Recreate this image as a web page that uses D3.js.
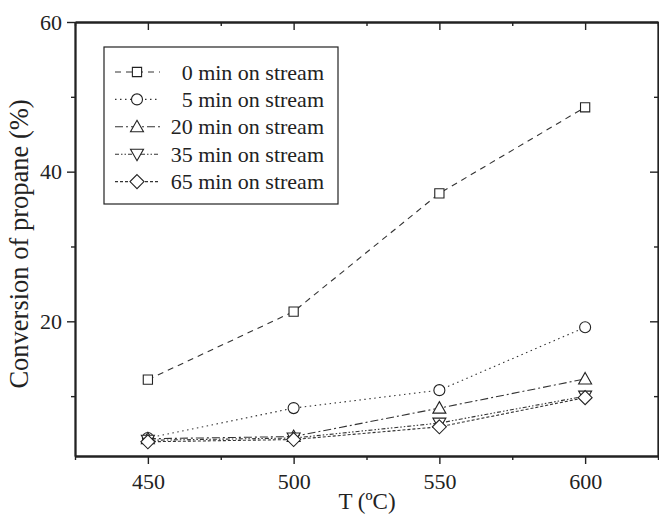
<!DOCTYPE html>
<html>
<head>
<meta charset="utf-8">
<script src="https://cdn.jsdelivr.net/npm/d3@7"></script>
<style>
  html, body { margin: 0; padding: 0; background: #fff; }
  svg { display: block; }
  text { font-family: "Liberation Serif", "Times New Roman", serif; fill: #222; }
</style>
</head>
<body>
<svg id="chart" width="659" height="515"></svg>
<script>
// ---- data ----
const temperatures = [450, 500, 550, 600];
const seriesNames = ["0 min on stream", "5 min on stream", "20 min on stream", "35 min on stream", "65 min on stream"];
const conv0min  = [12.2, 21.3, 37.1, 48.6];
const conv5min  = [4.4, 8.4, 10.8, 19.2];
const conv20min = [4.3, 4.6, 8.4, 12.3];
const conv35min = [4.1, 4.4, 6.4, 10.0];
const conv65min = [3.9, 4.2, 5.9, 9.8];
const xMajorTicks = [450, 500, 550, 600];
const xMinorTicks = [425, 475, 525, 575, 625];
const yMajorTicks = [20, 40, 60];
const yMinorTicks = [10, 30, 50];

const seriesValues = [conv0min, conv5min, conv20min, conv35min, conv65min];
const markerTypes = ["square", "circle", "triangle", "triangleDown", "diamond"];
const dashes = ["6,5", "1.5,3.5", "8,3,2,3", "4,2,1.5,2,1.5,2", "3,2"];

const svg = d3.select("#chart");
const L = 75, R = 658, T = 22, B = 456;
const x = d3.scaleLinear().domain([425, 625]).range([L, R]);
const y = d3.scaleLinear().domain([2, 60]).range([B, T]);

const tickFont = 22;
const legendFont = 22;

// axes
const axisColor = "#222";
function styleAxis(g) {
  g.selectAll("path.domain").attr("stroke", axisColor).attr("stroke-width", 1.8);
  g.selectAll(".tick line").attr("stroke", axisColor).attr("stroke-width", 1.4);
  g.selectAll(".tick text").style("font-family", '"Liberation Serif", serif').style("font-size", tickFont + "px").attr("fill", "#222");
}

// bottom
const gB = svg.append("g").attr("transform", `translate(0,${B})`);
gB.call(d3.axisBottom(x).tickValues(xMajorTicks).tickSize(8).tickSizeOuter(0).tickPadding(9).tickFormat(d3.format("d")));
styleAxis(gB);
const gBm = svg.append("g").attr("transform", `translate(0,${B})`);
gBm.call(d3.axisBottom(x).tickValues(xMinorTicks).tickSize(4).tickSizeOuter(0).tickFormat(""));
styleAxis(gBm);

// top
const gT = svg.append("g").attr("transform", `translate(0,${T})`);
gT.call(d3.axisTop(x).tickValues(xMajorTicks).tickSize(-8).tickSizeOuter(0).tickFormat(""));
styleAxis(gT);
const gTm = svg.append("g").attr("transform", `translate(0,${T})`);
gTm.call(d3.axisTop(x).tickValues(xMinorTicks).tickSize(-4).tickSizeOuter(0).tickFormat(""));
styleAxis(gTm);

// left
const gL = svg.append("g").attr("transform", `translate(${L},0)`);
gL.call(d3.axisLeft(y).tickValues(yMajorTicks).tickSize(8).tickSizeOuter(0).tickPadding(5).tickFormat(d3.format("d")));
styleAxis(gL);
const gLm = svg.append("g").attr("transform", `translate(${L},0)`);
gLm.call(d3.axisLeft(y).tickValues(yMinorTicks).tickSize(4).tickSizeOuter(0).tickFormat(""));
styleAxis(gLm);

// right
const gR = svg.append("g").attr("transform", `translate(${R},0)`);
gR.call(d3.axisRight(y).tickValues(yMajorTicks).tickSize(-8).tickSizeOuter(0).tickFormat(""));
styleAxis(gR);
const gRm = svg.append("g").attr("transform", `translate(${R},0)`);
gRm.call(d3.axisRight(y).tickValues(yMinorTicks).tickSize(-4).tickSizeOuter(0).tickFormat(""));
styleAxis(gRm);

// axis titles
svg.append("text")
  .attr("x", 367).attr("y", 509)
  .attr("text-anchor", "middle")
  .style("font-size", "23px")
  .text("T (ºC)");
svg.append("text")
  .attr("transform", `translate(28,244) rotate(-90)`)
  .attr("text-anchor", "middle")
  .style("font-size", "26.5px")
  .text("Conversion of propane (%)");

// marker drawing
function markerPath(type) {
  switch (type) {
    case "square": return d3.symbol(d3.symbolSquare, 85)();
    case "circle": return d3.symbol(d3.symbolCircle, 95)();
    case "triangle": return "M0,-6.5L6.5,5L-6.5,5Z";
    case "triangleDown": return "M0,6.5L6.5,-5L-6.5,-5Z";
    case "diamond": return "M0,-7L7,0L0,7L-7,0Z";
  }
}

const line = d3.line().x(d => x(d[0])).y(d => y(d[1]));

seriesValues.forEach((vals, i) => {
  const pts = temperatures.map((t, j) => [t, vals[j]]);
  svg.append("path")
    .datum(pts)
    .attr("d", line)
    .attr("fill", "none")
    .attr("stroke", "#333")
    .attr("stroke-width", 1.1)
    .attr("stroke-dasharray", dashes[i]);
});
seriesValues.forEach((vals, i) => {
  const pts = temperatures.map((t, j) => [t, vals[j]]);
  svg.append("g").selectAll("path")
    .data(pts)
    .join("path")
    .attr("transform", d => `translate(${x(d[0])},${y(d[1])})`)
    .attr("d", markerPath(markerTypes[i]))
    .attr("fill", "#fff")
    .attr("stroke", "#222")
    .attr("stroke-width", 1.1);
});

// legend
const lg = svg.append("g");
lg.append("rect")
  .attr("x", 104).attr("y", 47).attr("width", 234).attr("height", 157)
  .attr("fill", "#fff").attr("stroke", "#222").attr("stroke-width", 1.2);
const rowY0 = 72, rowStep = 27.4;
seriesNames.forEach((name, i) => {
  const yy = rowY0 + i * rowStep;
  lg.append("line")
    .attr("x1", 115).attr("x2", 160).attr("y1", yy).attr("y2", yy)
    .attr("stroke", "#333").attr("stroke-width", 1.1)
    .attr("stroke-dasharray", dashes[i]);
  lg.append("path")
    .attr("transform", `translate(137,${yy})`)
    .attr("d", markerPath(markerTypes[i]))
    .attr("fill", "#fff").attr("stroke", "#222").attr("stroke-width", 1.1);
  lg.append("text")
    .attr("x", 324).attr("y", yy + 7.5)
    .attr("text-anchor", "end")
    .style("font-size", legendFont + "px")
    .text(name);
});
</script>
</body>
</html>
